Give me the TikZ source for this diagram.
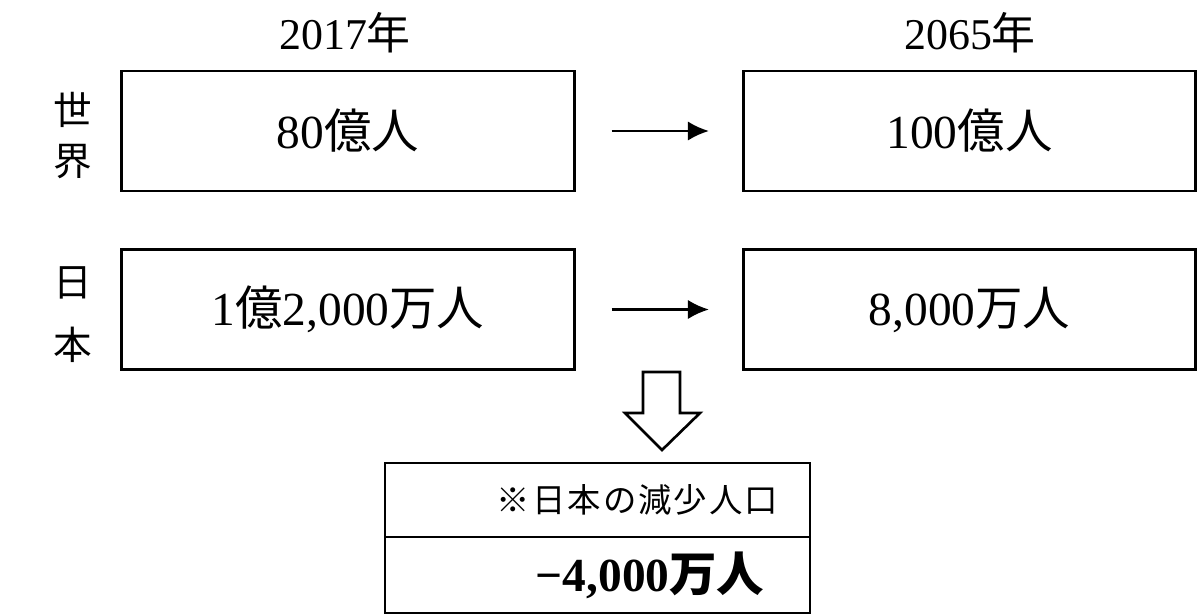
\documentclass[tikz,border=0pt]{standalone}
\usepackage{fontspec}
\setmainfont{Liberation Serif}
\newfontfamily\cjk{Noto Sans CJK JP}
\usetikzlibrary{positioning,arrows.meta}

\begin{document}
\begin{tikzpicture}[x=0.02cm,y=-0.02cm,
	valbox/.style={draw,line width=1.5pt,minimum width=9.05cm,minimum height=2.4cm,inner sep=0pt,font=\fontsize{27}{30}\selectfont},
	yearlbl/.style={inner sep=0pt,font=\fontsize{25}{28}\selectfont},
	sidelbl/.style={inner sep=0pt,font=\cjk\fontsize{22}{24}\selectfont},
	resbox/.style={draw,line width=1.5pt,minimum width=8.5cm,inner sep=0pt,outer sep=0pt},
	flow/.style={line width=1.5pt,-{Latex[length=12pt,width=11pt]},shorten <=0.72cm,shorten >=0.66cm}]
				\useasboundingbox (0,0) rectangle (1199,615);
				% years
				\node[yearlbl] (y17) at (345,33) {2017{\cjk 年}};
				\node[yearlbl] (y65) at (970,33) {2065{\cjk 年}};
				% row labels
				\node[sidelbl] (sei) at (73,110) {世};
				\node[sidelbl] (kai) at (73,162) {界};
				\node[sidelbl] (nichi) at (73,283) {日};
				\node[sidelbl] (hon) at (73,345) {本};
				% value boxes
				\node[valbox] (w17) at (348,131) {80{\cjk 億人}};
				\node[valbox] (w65) at (969.5,131) {100{\cjk 億人}};
				\node[valbox] (j17) at (348,309.5) {1{\cjk 億}2,000{\cjk 万人}};
				\node[valbox] (j65) at (969.5,309.5) {8,000{\cjk 万人}};
				\draw[flow] (w17) -- (w65);
				\draw[flow] (j17) -- (j65);
				% hollow arrow down
				\draw[line width=1.5pt] (643,372) -- (643,413) -- (625,413) -- (662,450) -- (700,413) -- (680,413) -- (680,372) -- cycle;
				% result
				\node[resbox,minimum height=1.48cm,font=\cjk\fontsize{19}{22}\selectfont\addfontfeatures{LetterSpace=6}] (note) at (597.5,500) {\hspace*{1.6cm}※日本の減少人口};
				\node[resbox,minimum height=1.52cm,font=\bfseries\fontsize{27}{30}\selectfont,below=0pt of note] (delta) {\hspace*{2.1cm}−4,000{\cjk 万人}};
\end{tikzpicture}
\end{document}
